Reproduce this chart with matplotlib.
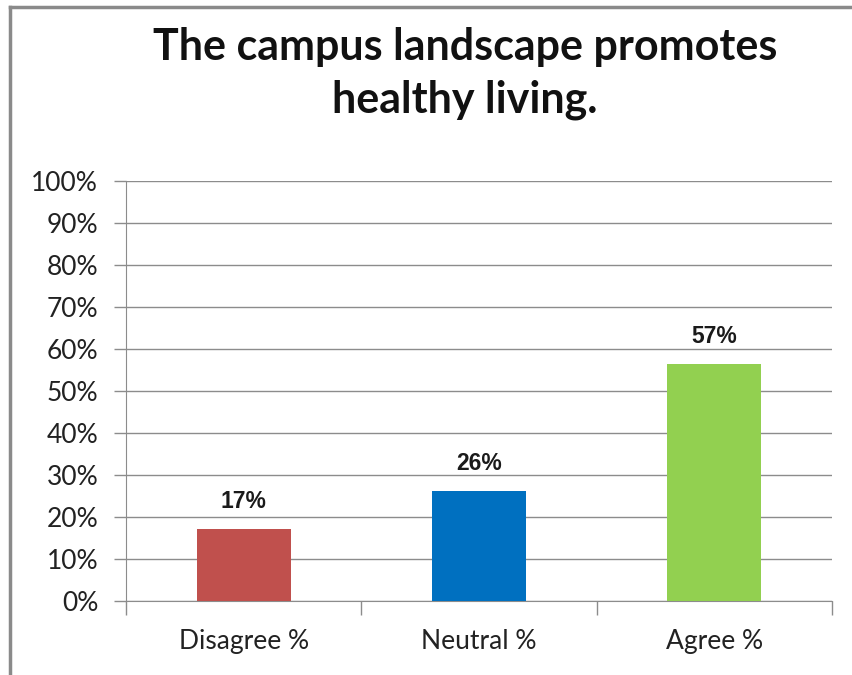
import matplotlib.pyplot as plt
import matplotlib.lines as mlines
from matplotlib.ticker import FixedLocator, PercentFormatter

categories = ['Disagree %', 'Neutral %', 'Agree %']
values = [17.2, 26.1, 56.5]
value_labels = ['17%', '26%', '57%']
colors = ['#C0504D', '#0070C0', '#92D050']
yticks = list(range(0, 101, 10))

fig = plt.figure(figsize=(8.53, 6.75), dpi=100)
ax = fig.add_axes([0.1477, 0.1096, 0.8277, 0.6223])

x = range(len(categories))
bars = ax.bar(x, values, width=0.4, color=colors, zorder=3)

for b, lab in zip(bars, value_labels):
    ax.annotate(lab, (b.get_x() + b.get_width() / 2, b.get_height()),
                xytext=(0, 16), textcoords='offset pixels', ha='center', va='bottom',
                fontsize=16.5, fontweight='bold', family='Liberation Sans', color='#1a1a1a')

ax.set_xlim(-0.5, 2.5)
ax.set_ylim(0, 100)
ax.set_yticks(yticks)
ax.yaxis.set_major_formatter(PercentFormatter(decimals=0))
ax.grid(axis='y', color='#8c8c8c', linewidth=1, zorder=0)

ax.set_xticks(list(x))
ax.set_xticklabels(categories)
ax.xaxis.set_minor_locator(FixedLocator([-0.5, 0.5, 1.5, 2.5]))
ax.tick_params(axis='x', which='major', length=0, pad=20)
ax.tick_params(axis='x', which='minor', length=10, color='#8c8c8c', width=1)
ax.tick_params(axis='y', length=9, color='#8c8c8c', width=1, pad=11)
for lab in ax.get_xticklabels() + ax.get_yticklabels():
    lab.set_family('Lato')
    lab.set_fontsize(19)
    lab.set_color('#222222')

for s in ['top', 'right']:
    ax.spines[s].set_visible(False)
ax.spines['left'].set_color('#8c8c8c')
ax.spines['bottom'].set_color('#8c8c8c')

fig.text(0.545, 0.891, 'The campus landscape promotes\nhealthy living.', ha='center', va='center',
         fontsize=31, fontweight='bold', family='Lato', linespacing=1.36, color='#111111')

# outer frame (left and top edges only visible)
fig.add_artist(mlines.Line2D([9.5 / 853, 9.5 / 853], [0, 1 - 7 / 675], color='#8a8a8a', linewidth=2.5))
fig.add_artist(mlines.Line2D([9.5 / 853, 1], [1 - 7 / 675, 1 - 7 / 675], color='#8a8a8a', linewidth=2.5))

fig.savefig('out.png', dpi=100)
